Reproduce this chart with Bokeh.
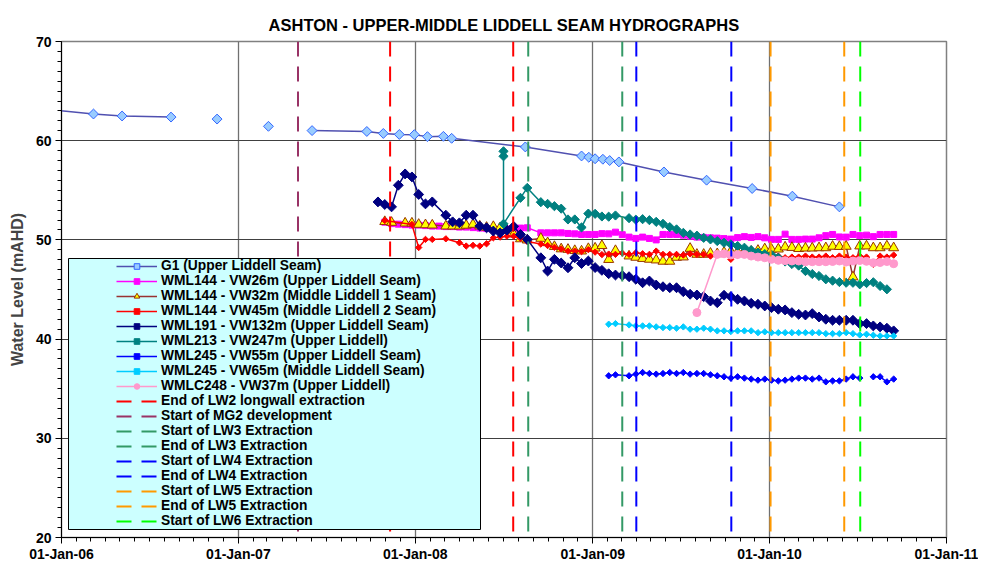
import pandas as pd
from math import pi
from bokeh.plotting import figure
from bokeh.models import (ColumnDataSource, Legend, LegendItem, FixedTicker,
                          DatetimeTickFormatter, BoxAnnotation, Range1d)
from bokeh.embed import file_html
from bokeh.resources import INLINE

nan = float("nan")

TITLE = "ASHTON - UPPER-MIDDLE LIDDELL SEAM HYDROGRAPHS"
Y_LABEL = "Water Level (mAHD)"
X_START, X_END = "2006-01-01", "2011-01-01"
Y_MIN, Y_MAX = 20, 70
YEAR_TICKS = ["2006-01-01", "2007-01-01", "2008-01-01", "2009-01-01", "2010-01-01", "2011-01-01"]
Y_TICKS = [20, 30, 40, 50, 60, 70]

# G1 readings (runs separated where the record has gaps)
G1_DATES = [
    ["2005-12-15", "2006-03-08", "2006-05-06", "2006-08-15"],
    ["2006-11-18"],
    ["2007-03-04"],
    ["2007-06-02", "2007-09-23", "2007-10-27", "2007-11-29", "2007-12-30", "2008-01-26",
     "2008-02-28", "2008-03-16", "2008-08-15", "2008-12-09", "2008-12-24", "2009-01-06",
     "2009-01-22", "2009-02-05", "2009-02-24", "2009-05-28", "2009-08-24", "2009-11-26",
     "2010-02-17", "2010-05-25"],
]
G1_LEVEL = [
    [63.10, 62.69, 62.49, 62.38],
    [62.18],
    [61.45],
    [61.02, 60.93, 60.73, 60.63, 60.61, 60.41, 60.44, 60.24, 59.37, 58.46, 58.33, 58.18,
     58.13, 58.00, 57.86, 56.85, 56.02, 55.18, 54.41, 53.33],
]

# Fortnightly vibrating-wire readings
READING_DATES = [
    "2007-10-16", "2007-10-30", "2007-11-13", "2007-11-27", "2007-12-11", "2007-12-25",
    "2008-01-08", "2008-01-22", "2008-02-05", "2008-02-19", "2008-03-04", "2008-03-18",
    "2008-04-01", "2008-04-15", "2008-04-29", "2008-05-13", "2008-05-27", "2008-06-10",
    "2008-06-24", "2008-07-08", "2008-07-22", "2008-08-05", "2008-08-19", "2008-09-02",
    "2008-09-16", "2008-09-30", "2008-10-14", "2008-10-28", "2008-11-11", "2008-11-25",
    "2008-12-09", "2008-12-23", "2009-01-06", "2009-01-20", "2009-02-03", "2009-02-17",
    "2009-03-03", "2009-03-17", "2009-03-31", "2009-04-14", "2009-04-28", "2009-05-12",
    "2009-05-26", "2009-06-09", "2009-06-23", "2009-07-07", "2009-07-21", "2009-08-04",
    "2009-08-18", "2009-09-01", "2009-09-15", "2009-09-29", "2009-10-13", "2009-10-27",
    "2009-11-10", "2009-11-24", "2009-12-08", "2009-12-22", "2010-01-05", "2010-01-19",
    "2010-02-02", "2010-02-16", "2010-03-02", "2010-03-16", "2010-03-30", "2010-04-13",
    "2010-04-27", "2010-05-11", "2010-05-25", "2010-06-08", "2010-06-22", "2010-07-06",
    "2010-07-20", "2010-08-03", "2010-08-17", "2010-08-31", "2010-09-14",
]

WML144_VW26 = [
    None, 51.79, 51.64, 51.59, 51.54, 51.49, 51.49, 51.44, 51.39, 51.39,
    51.34, 51.34, 51.29, 51.29, 51.24, 51.19, 51.14, 51.09, 51.04, 51.09,
    51.14, 51.19, 51.22, None, 50.71, 50.71, 50.71, 50.71, 50.65, 50.61,
    50.55, 50.55, 50.55, 50.63, 50.61, 50.78, 50.53, 50.28, 50.15, 50.28,
    50.15, 50.00, 50.55, 50.55, 50.55, 50.48, 50.38, 50.28, 50.25, 50.21,
    50.18, 50.13, 50.08, 50.23, 50.33, 50.25, 50.33, 50.21, 50.05, 50.05,
    50.58, 50.05, 50.05, 50.08, 50.08, 50.21, 50.43, 50.55, 50.30, 50.28,
    50.55, 50.43, 50.48, 50.33, 50.55, 50.55, 50.55,
]
WML144_VW32 = [
    None, 51.84, 51.76, None, 51.69, 51.69, 51.56, 51.52, 51.49, None,
    51.39, 51.39, 51.39, 51.47, 51.56, 51.39, 51.26, 51.34, 51.22, 50.96,
    50.58, 50.10, 49.98, None, 50.15, 49.71, 49.33, 49.09, 49.04, 48.92,
    48.87, 49.12, 49.17, 49.42, 48.02, 48.92, None, 48.37, 48.24, 48.12,
    48.04, 47.97, 47.84, 47.84, 48.24, 48.27, 49.14, 48.54, 48.54, 48.65,
    48.60, 48.75, 48.84, 48.79, 48.84, 48.84, 48.94, 49.09, 49.04, 49.07,
    49.28, 49.23, 49.12, 49.17, 49.17, 49.20, 49.20, 49.35, 49.33, 49.35,
    46.26, 49.38, 49.38, 49.20, 49.20, 49.38, 49.20,
]
WML144_VW45 = [
    None, 51.96, None, None, None, 51.56, 49.23, 50.05, 50.05, None,
    50.11, None, 49.71, 49.38, 49.45, 49.38, 49.61, 50.21, 50.28, 50.38,
    50.38, 50.15, 49.83, None, 49.58, 49.43, 49.25, 49.09, 48.87, 48.87,
    48.82, 49.02, 48.77, 48.52, 48.57, 48.54, 48.67, 48.54, 48.70, 48.60,
    48.54, 48.87, 48.54, 48.54, 48.54, 48.47, 48.60, 48.54, 48.54, 48.37,
    48.54, 48.60, 48.04, 48.47, 48.54, 48.37, 48.47, 48.37, 48.27, 48.37,
    48.20, 48.27, 48.27, 48.37, 48.27, 48.27, 48.37, 48.20, 48.37, 48.27,
    48.20, 48.37, 48.27, 47.54, 48.37, 48.27, 48.47,
]
WML191_VW132 = [
    53.83, 53.57, 53.33, 55.51, 56.65, 56.35, 54.58, 53.63, 53.83, None,
    52.49, 51.82, 51.72, 52.49, 52.49, 51.39, 51.22, 50.89, 50.71, 50.99,
    51.36, 50.55, 50.05, None, 48.20, 46.86, 48.04, 47.67, 47.19, 48.20,
    47.62, 47.87, 47.21, 46.93, 46.59, 46.46, 46.41, 46.29, 46.03, 45.68,
    45.86, 45.45, 45.28, 45.18, 45.18, 44.78, 44.52, 44.45, 44.28, 43.84,
    43.67, 44.42, 44.28, 44.01, 43.84, 43.61, 43.51, 43.34, 43.17, 43.01,
    42.94, 42.67, 42.50, 42.43, 42.57, 42.23, 42.00, 41.90, 41.90, 41.90,
    41.90, 41.56, 41.56, 41.33, 41.23, 41.10, 40.83,
]
WML213_FIRST_DATES = ["2008-07-01", "2008-07-01", "2008-07-01"]
WML213_FIRST = [58.93, 58.43, 51.62]
WML213_VW247 = [None] * 21 + [
    54.24, 55.24, None, 53.80, 53.63, 53.40, 53.15, 52.06, 52.06,
    51.26, 52.65, 52.63, 52.36, 52.34, 52.46, None, 52.19, 52.04, 52.09,
    51.99, 51.82, 51.62, 51.29, 51.06, 50.71, 50.55, 50.43, 50.21, 50.05,
    49.88, 49.71, 49.55, 49.38, 49.21, 48.97, 48.72, 48.57, 48.50, 48.20,
    47.82, 47.57, 47.41, 46.86, 46.56, 46.36, 46.03, 45.89, 45.75, 45.68,
    45.68, 45.52, 45.65, 45.73, 45.35, 45.02, None,
]
WML245_VW55 = [None] * 34 + [
    36.30, 36.40, None, 36.30, 36.47, 36.63,
    36.53, 36.47, 36.53, 36.63, 36.53, 36.63, 36.47, 36.53, 36.53, 36.40,
    36.30, 36.20, 36.07, 36.20, 36.07, 35.97, 35.86, 35.97, 35.86, 35.79,
    35.86, 35.97, 36.07, 36.07, 35.97, 36.07, 35.69, 35.79, 35.79, 35.97,
    36.20, 36.07, nan, 36.20, 36.20, 35.69, 35.97,
]
WML245_VW65 = [None] * 34 + [
    41.50, 41.56, None, 41.43, 41.33, 41.33,
    41.33, 41.23, 41.16, 41.16, 41.10, 41.23, 41.00, 41.00, 41.10, 41.00,
    40.83, 40.83, 40.76, 40.83, 40.83, 40.83, 40.65, 40.73, 40.65, 40.65,
    40.65, 40.65, 40.65, 40.65, 40.65, 40.65, 40.55, 40.55, 40.55, 40.65,
    40.55, 40.42, 40.49, 40.39, 40.32, 40.32, 40.32,
]
WMLC248_VW37 = [None] * 47 + [
    42.67, None, None, 48.54, 48.60, 48.47, 48.52, 48.54, 48.37, 48.27,
    48.20, 48.04, 47.94, 47.90, 47.87, 47.87, 47.80, 47.80, 47.80, 47.80,
    47.82, 47.87, 47.77, 47.87, 47.92, 47.84, 47.70, 47.72, 47.82, 47.60,
]

SERIES_LABELS = [
    "G1 (Upper Liddell Seam)",
    "WML144 - VW26m (Upper Liddell Seam)",
    "WML144 - VW32m (Middle Liddell 1 Seam)",
    "WML144 - VW45m (Middle Liddell 2 Seam)",
    "WML191 - VW132m (Upper Liddell Seam)",
    "WML213 - VW247m (Upper Liddell)",
    "WML245 - VW55m (Upper Liddell Seam)",
    "WML245 - VW65m (Middle Liddell Seam)",
    "WMLC248 - VW37m (Upper Liddell)",
]

EVENT_LABELS = [
    "End of LW2 longwall extraction",
    "Start of MG2 development",
    "Start of LW3 Extraction",
    "End of LW3 Extraction",
    "Start of LW4 Extraction",
    "End of LW4 Extraction",
    "Start of LW5 Extraction",
    "End of LW5 Extraction",
    "Start of LW6 Extraction",
]
EVENT_DATES = [
    ["2007-11-10", "2008-07-21"],
    ["2007-05-04"],
    ["2008-08-21"],
    ["2009-03-03"],
    ["2009-04-01"],
    ["2009-10-14"],
    ["2010-01-03"],
    ["2010-06-04"],
    ["2010-07-07"],
]
EVENT_COLORS = ["#FF0000", "#993366", "#339966", "#339966", "#0000FF",
                "#0000FF", "#FF9900", "#FF9900", "#00FF00"]


def ms(dates):
    return list(pd.to_datetime(dates).asi8 / 1e6)


FONT = "Liberation Sans"

p = figure(width=978, height=565, output_backend="svg", toolbar_location=None,
           x_axis_type="datetime",
           x_range=Range1d(ms([X_START])[0], ms([X_END])[0]),
           y_range=Range1d(Y_MIN, Y_MAX),
           min_border_left=61, min_border_right=32, min_border_top=41,
           min_border_bottom=28)
p.background_fill_color = "white"
p.border_fill_color = "white"
p.outline_line_color = "#808080"
p.outline_line_width = 1.5

p.title.text = TITLE
p.title.align = "center"
p.title.vertical_align = "top"
p.title.text_font = FONT
p.title.text_font_size = "16.5px"
p.title.text_font_style = "bold"
p.title.text_color = "black"
p.title.text_line_height = 1.5
p.title.standoff = 12

# axes
xt = FixedTicker(ticks=ms(YEAR_TICKS),
                 minor_ticks=ms(pd.date_range(X_START, X_END, freq="MS")))
p.xaxis.ticker = xt
p.xgrid.ticker = xt
fmt = "%d-%b-%y"
p.xaxis.formatter = DatetimeTickFormatter(days=fmt, months=fmt, years=fmt)
yt = FixedTicker(ticks=Y_TICKS, minor_ticks=list(range(Y_MIN, Y_MAX + 1)))
p.yaxis.ticker = yt
p.ygrid.ticker = yt
p.yaxis.axis_label = Y_LABEL
for ax in (p.xaxis[0], p.yaxis[0]):
    ax.axis_line_color = "black"
    ax.major_tick_line_color = "black"
    ax.minor_tick_line_color = "black"
    ax.major_tick_in = 0
    ax.major_tick_out = 6
    ax.minor_tick_in = 0
    ax.minor_tick_out = 4
    ax.major_label_text_font = FONT
    ax.major_label_text_font_size = "14px"
    ax.major_label_text_font_style = "bold"
    ax.major_label_text_color = "black"
p.xaxis.major_label_standoff = 2
p.yaxis.major_label_standoff = 4
p.yaxis.axis_label_text_font = FONT
p.yaxis.axis_label_text_font_size = "16px"
p.yaxis.axis_label_text_font_style = "bold"
p.yaxis.axis_label_standoff = 7
p.xgrid.grid_line_color = "#707070"
p.xgrid.grid_line_width = 1.3
p.ygrid.grid_line_color = "#404040"
p.ygrid.grid_line_width = 1


def grid_source(values, extra_dates=None, extra_values=None):
    dates = list(extra_dates or []) + READING_DATES
    vals = list(extra_values or []) + list(values)
    xs = [d for d, v in zip(dates, vals) if v is not None]
    ys = [v for v in vals if v is not None]
    return ColumnDataSource(dict(x=ms(xs), y=ys))


items = []

# G1
g1_line = p.multi_line(xs=[ms(r) for r in G1_DATES], ys=G1_LEVEL,
                       line_color="#5050B0", line_width=1.5)
g1_src = ColumnDataSource(dict(x=ms(sum(G1_DATES, [])), y=sum(G1_LEVEL, [])))
g1_mark = p.scatter("x", "y", source=g1_src, marker="square", angle=pi / 4, size=7,
                    fill_color="#99CCFF", line_color="#3366FF", line_width=1)
items.append(LegendItem(label=SERIES_LABELS[0], renderers=[g1_line, g1_mark]))

STYLE = [
    # values, line color, marker, size, fill, marker line, angle
    (WML144_VW26, "#FF00FF", "square", 6, "#FF00FF", "#FF00FF", 0),
    (WML144_VW32, "#993333", "triangle", 10, "#FFFF00", "#993300", 0),
    (WML144_VW45, "#FF0000", "square", 4.5, "#FF0000", "#FF0000", pi / 4),
    (WML191_VW132, "#000080", "square", 7, "#000080", "#000080", pi / 4),
    (WML213_VW247, "#008080", "square", 6.5, "#008080", "#008080", pi / 4),
    (WML245_VW55, "#0000FF", "square", 4.5, "#0000FF", "#0000FF", pi / 4),
    (WML245_VW65, "#00CCFF", "square", 4.5, "#00CCFF", "#00CCFF", pi / 4),
    (WMLC248_VW37, "#FF99CC", "circle", 8, "#FF99CC", "#FF99CC", 0),
]
for k, (vals, lc, mk, sz, fc, mlc, ang) in enumerate(STYLE):
    if vals is WML213_VW247:
        src = grid_source(vals, WML213_FIRST_DATES, WML213_FIRST)
    else:
        src = grid_source(vals)
    ln = p.line("x", "y", source=src, line_color=lc, line_width=1.5)
    mr = p.scatter("x", "y", source=src, marker=mk, size=sz, angle=ang,
                   fill_color=fc, line_color=mlc, line_width=1)
    items.append(LegendItem(label=SERIES_LABELS[k + 1], renderers=[ln, mr]))

for lab, dts, col in zip(EVENT_LABELS, EVENT_DATES, EVENT_COLORS):
    x = ms(dts)
    src = ColumnDataSource(dict(x=x, y0=[Y_MAX] * len(x), y1=[Y_MIN] * len(x)))
    seg = p.segment(x0="x", y0="y0", x1="x", y1="y1", source=src, line_color=col,
                    line_width=2, line_dash="15 10")
    items.append(LegendItem(label=lab, renderers=[seg]))

box = BoxAnnotation(left=68, right=480, top=258, bottom=529,
                    left_units="canvas", right_units="canvas",
                    top_units="canvas", bottom_units="canvas",
                    fill_color="#CCFFFF", fill_alpha=1,
                    line_color="black", line_width=1, line_alpha=1)
p.add_layout(box)

legend = Legend(items=items, location=(55, 9))
legend.background_fill_alpha = 0
legend.border_line_color = None
legend.padding = 0
legend.margin = 0
legend.spacing = -1
legend.glyph_height = 14
legend.label_height = 14
legend.glyph_width = 41
legend.label_standoff = 4
legend.label_text_font = FONT
legend.label_text_font_size = "13.8px"
legend.label_text_font_style = "bold"
legend.label_text_color = "black"
p.add_layout(legend)

open("out.html", "w").write(file_html(p, INLINE))
